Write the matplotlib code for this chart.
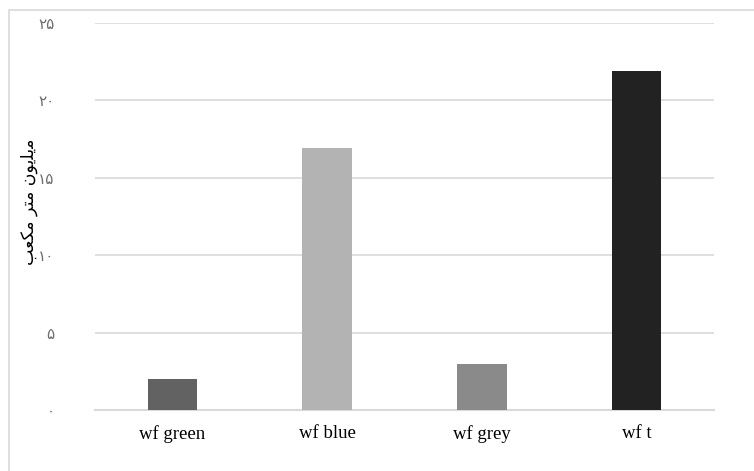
import matplotlib
matplotlib.use("Agg")
import matplotlib.pyplot as plt
from matplotlib.patches import Rectangle

# Water footprint components (million cubic metres)
categories = ["wf green", "wf blue", "wf grey", "wf t"]
values = [2.0, 16.9, 3.0, 21.9]
bar_colors = ["#626262", "#b3b3b3", "#8a8a8a", "#222222"]
tick_values = [0, 5, 10, 15, 20, 25]
tick_labels = ["۰", "۵", "۱۰", "۱۵", "۲۰", "۲۵"]

# "میلیون متر مکعب" in visual (left-to-right) order using Arabic presentation forms
ylabel_text = ("\uFE90\uFECC\uFB91\uFEE3 "
               "\uFEAE\uFE98\uFEE3 "
               "\uFEE5\uFEEE\uFBFE\uFEE0\uFBFE\uFEE3")

W, H = 754, 471
fig = plt.figure(figsize=(W / 100, H / 100), dpi=100)
fig.patch.set_facecolor("white")

# outer chart frame
fig.patches.append(Rectangle((8.5 / W, -0.05), 1.2, 1 - 9.5 / H + 0.05,
                             transform=fig.transFigure, fill=False,
                             edgecolor="#d9d9d9", linewidth=1.2))

left, right = 95 / W, 714 / W
bottom, top = 1 - 410 / H, 1 - 23 / H
ax = fig.add_axes([left, bottom, right - left, top - bottom])

x = range(len(categories))
ax.bar(x, values, width=0.32, color=bar_colors, zorder=3)

ax.set_xlim(-0.5, len(categories) - 0.5)
ax.set_ylim(0, 25)
ax.set_yticks(tick_values)
ax.set_yticklabels(tick_labels, family=["DejaVu Sans"], fontsize=11, color="#6e6e6e")
ax.set_xticks(list(x))
ax.set_xticklabels(categories, family=["Liberation Serif"], fontsize=13.5, color="#000000")

ax.grid(axis="y", color="#d9d9d9", linewidth=1.2, zorder=0)
for s in ["top", "right", "left"]:
    ax.spines[s].set_visible(False)
ax.spines["bottom"].set_color("#d9d9d9")
ax.spines["bottom"].set_linewidth(1.5)
ax.tick_params(axis="both", length=0)
ax.tick_params(axis="y", pad=29)
ax.tick_params(axis="x", pad=11)

fig.text(29 / W, 1 - 202 / H, ylabel_text, rotation=90, ha="center", va="center",
         fontsize=12.5, family=["DejaVu Sans"], color="#000000")

fig.savefig("out.png", dpi=100)
